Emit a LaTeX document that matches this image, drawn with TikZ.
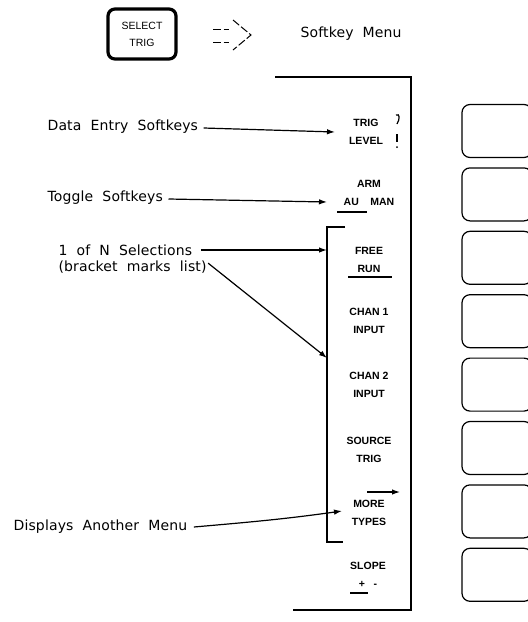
\documentclass[tikz,border=0pt]{standalone}
\usepackage{fontspec}
\setmainfont{DejaVu Sans}[LetterSpace=1,WordSpace=2]
\newfontfamily\keyfont{Liberation Sans}
\usetikzlibrary{arrows,arrows.meta,positioning}

\begin{document}
\begin{tikzpicture}[x=1pt,y=-1pt,>={Latex[length=8pt,width=5.5pt]},line width=1.2pt,
  side label/.style={anchor=west,inner sep=0pt,font=\fontsize{14}{16}\selectfont},
  key label/.style={align=center,inner sep=0pt,font=\keyfont\bfseries\fontsize{10.5}{17.5}\selectfont},
  softkey/.style={draw,rounded corners=8pt,minimum width=70pt,minimum height=53pt}]
\useasboundingbox (0,0) rectangle (528,622);

% front panel key and the menu it calls
\node[draw,line width=3.2pt,rounded corners=7pt,minimum width=68pt,minimum height=50pt,
  align=center,font=\keyfont\fontsize{10.5}{17}\selectfont] (select) at (142,34) {SELECT\\TRIG};
\begin{scope}[line width=1pt,dash pattern=on 8pt off 2.5pt]
\draw (213,29) -- (229,29);
\draw (213,42) -- (229,42);
\draw (233,20) -- (251,35) -- (233,50);
\end{scope}
\node[side label] (menu) at (300,34) {Softkey Menu};

% menu panel
\draw (275,77) -- (411,77) -- (411,610) -- (293,610);
\draw (345,227) -- (327,227) -- (327,542) -- (343,542);

\begin{scope}[every node/.style={key label}]
\node (trig)   at (366,132) {TRIG\\LEVEL};
\node (arm)    at (369,193) {ARM\\AU\hspace{1.1em}MAN};
\node (free)   at (369,260) {FREE\\RUN};
\node (chan1)  at (369,321) {CHAN 1\\INPUT};
\node (chan2)  at (369,385) {CHAN 2\\INPUT};
\node (source) at (369,450) {SOURCE\\TRIG};
\node (more)   at (369,513) {MORE\\TYPES};
\node (slope)  at (368,575) {SLOPE\\+\hspace{0.8em}-};
\end{scope}
% marks on the key labels
\draw (396,115) .. controls (400,113) and (400,119) .. (397,124);
\draw (397,134) -- (397,142);
\fill (397,147) circle (1pt);
\draw[line width=1.6pt] (337,212) -- (367,212);
\draw[line width=1.6pt] (348,277) -- (392,277);
\draw[line width=1.6pt] (350,593) -- (368,593);
\draw[->] (367,492) -- (400,492);

% softkeys beside the display
\foreach \i in {0,...,7}
  \node[softkey] (key\i) at (497,131+63.4*\i) {};

% callouts
\node[side label] (data)   at (47,127) {Data Entry Softkeys};
\node[side label] (toggle) at (47,198) {Toggle Softkeys};
\node[side label] (oneofn) at (58,250) {1 of N Selections};
\node[side label] (brack)  at (58,267) {(bracket marks list)};
\node[side label] (disp)   at (13,527) {Displays Another Menu};

\coordinate (tdata)   at (335,132);
\coordinate (ttoggle) at (327,202);
\coordinate (toneofn) at (327,250);
\coordinate (tbrack)  at (327,358);
\coordinate (tdisp)   at (342,511);

\draw[->] (data.east) ++(5,1) -- (tdata);
\draw[->] (toggle.east) ++(5,1) -- (ttoggle);
\draw[->] (oneofn.east) ++(8,0) -- (toneofn);
\draw[->] (brack.north east) ++(1,3) -- (tbrack);
\draw[->] (disp.east) ++(6,0) to[out=5,in=188] (tdisp);
\end{tikzpicture}
\end{document}
